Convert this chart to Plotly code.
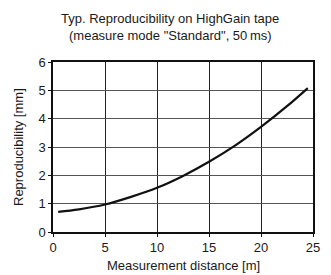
import plotly.graph_objects as go

title_lines = ["Typ. Reproducibility on HighGain tape", "(measure mode \"Standard\", 50\u2009ms)"]
x_title = "Measurement distance [m]"
y_title = "Reproducibility [mm]"

distance = [0.5, 2.5, 5, 7.5, 10, 12.5, 15, 17.5, 20, 22.5, 24.5]
reproducibility = [0.71, 0.80, 0.97, 1.24, 1.56, 1.98, 2.48, 3.05, 3.71, 4.44, 5.08]

x_ticks = [0, 5, 10, 15, 20, 25]
y_ticks = [0, 1, 2, 3, 4, 5, 6]

font_family = "Liberation Sans Narrow, Arial Narrow, Liberation Sans, Arial, sans-serif"
txt_color = "#1a1a1a"

fig = go.Figure()
fig.add_trace(go.Scatter(
    x=distance, y=reproducibility, mode="lines",
    line=dict(color="#111111", width=2.2, shape="spline", smoothing=1.0),
    hoverinfo="skip", showlegend=False,
))

fig.add_annotation(text=title_lines[0], xref="paper", yref="paper", x=0.45, y=1.0,
                   xanchor="center", yanchor="middle", yshift=44, showarrow=False,
                   font=dict(size=13, family=font_family, color=txt_color))
fig.add_annotation(text=title_lines[1], xref="paper", yref="paper", x=0.45, y=1.0,
                   xanchor="center", yanchor="middle", yshift=27, showarrow=False,
                   font=dict(size=13, family=font_family, color=txt_color))
fig.add_annotation(text=x_title, xref="paper", yref="paper", x=0.5, y=0.0,
                   xanchor="center", yanchor="middle", yshift=-33, showarrow=False,
                   font=dict(size=13, family=font_family, color=txt_color))
fig.add_annotation(text=y_title, xref="paper", yref="paper", x=0.0, y=0.5,
                   xanchor="center", yanchor="middle", xshift=-35, textangle=-90,
                   showarrow=False,
                   font=dict(size=13, family=font_family, color=txt_color))

fig.update_layout(
    width=323, height=267,
    margin=dict(l=45, r=18, t=54, b=43, autoexpand=False),
    paper_bgcolor="white", plot_bgcolor="white",
    font=dict(family=font_family, size=12, color=txt_color),
    xaxis=dict(
        range=[0, 25], tickvals=x_ticks, ticktext=[str(v) for v in x_ticks],
        showgrid=True, gridcolor="#222222", gridwidth=1,
        showline=True, linecolor="#111111", linewidth=1.5, mirror=True,
        ticks="outside", ticklen=3, tickcolor="#111111",
        zeroline=False, tickfont=dict(size=13), automargin=False,
    ),
    yaxis=dict(
        range=[0, 6], tickvals=y_ticks, ticktext=[str(v) for v in y_ticks],
        showgrid=True, gridcolor="#555555", gridwidth=1,
        showline=True, linecolor="#111111", linewidth=1.5, mirror=True,
        ticks="outside", ticklen=3, tickcolor="#111111",
        zeroline=False, tickfont=dict(size=13), automargin=False,
    ),
)

fig.write_html("out.html")
